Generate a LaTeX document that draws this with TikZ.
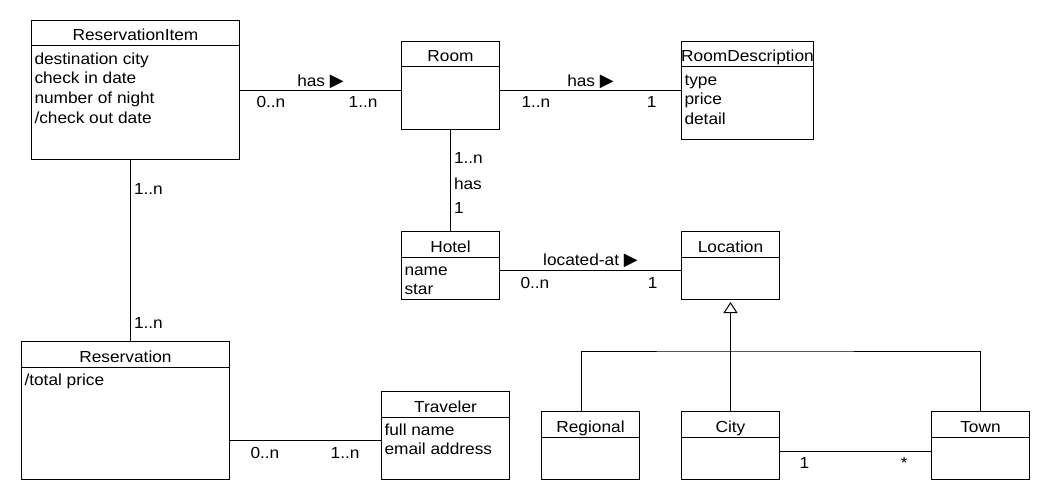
\documentclass[tikz,border=0pt]{standalone}
\usepackage{fontspec}
\setmainfont{Liberation Sans}[FakeStretch=1.08]
\newfontfamily\symfont{DejaVu Sans}
\usetikzlibrary{positioning,arrows.meta}
\newcommand{\tri}{{\symfont\fontsize{18}{18}\selectfont ▶}}
% class box: name, north west corner, width, height, title, attributes
\newcommand{\classbox}[6]{%
  \node[clsbox, minimum width=#3pt, minimum height=#4pt, anchor=north west] (#1) at (#2) {};
  \node[ttl] (#1-t) at ([yshift=-21pt]#1.north) {#5};
  \draw ([yshift=-26pt]#1.north west) -- ([yshift=-26pt]#1.north east);
  \node[att] (#1-a) at ([yshift=-26pt]#1.north west) {\strut#6};
}

\begin{document}
\begin{tikzpicture}[x=1pt, y=-1pt, line width=1pt,
  font=\fontsize{16}{19.7}\selectfont,
  clsbox/.style={draw, inner sep=0pt},
  ttl/.style={anchor=base, inner sep=0pt},
  att/.style={anchor=north west, align=left, inner xsep=3pt, inner ysep=4pt},
  mul/.style={inner sep=0pt},
  inherit/.style={-{Triangle[open, length=11pt, width=14pt]}, shorten >=2pt}]
\useasboundingbox (0,0) rectangle (1050,500);
% -- classes
\classbox{item}{31,20}{208}{139}{ReservationItem}
  {destination city\\check in date\\number of night\\/check out date}
\classbox{room}{401,41}{98}{88}{Room}{}
\classbox{desc}{681,41}{132}{98}{RoomDescription}{type\\price\\detail}
\classbox{hotel}{401,231}{98}{68}{Hotel}{name\\star}
\classbox{loc}{681,231}{98}{68}{Location}{}
\classbox{resv}{21,341}{208}{138}{Reservation}{/total price}
\classbox{trav}{381,391}{128}{88}{Traveler}{full name\\email address}
\classbox{reg}{541,411}{98}{68}{Regional}{}
\classbox{city}{681,411}{98}{68}{City}{}
\classbox{town}{931,411}{98}{68}{Town}{}
% -- associations
\draw ([yshift=-5pt]room.west -| item.east) -- ([yshift=-5pt]room.west)
  node[mul, pos=0, anchor=base west, xshift=16pt, yshift=-17pt] {0..n}
  node[mul, pos=1, anchor=base east, xshift=-23pt, yshift=-17pt] {1..n}
  node[mul, midway, anchor=base, yshift=4pt] {has \tri};
\draw ([yshift=-5pt]room.east) -- ([yshift=-5pt]room.east -| desc.west)
  node[mul, pos=0, anchor=base west, xshift=21pt, yshift=-17pt] {1..n}
  node[mul, pos=1, anchor=base east, xshift=-24pt, yshift=-17pt] {1}
  node[mul, midway, anchor=base, yshift=4pt] {has \tri};
\draw (room.south) -- (hotel.north)
  node[mul, pos=0, anchor=base west, xshift=3pt, yshift=-34pt] {1..n}
  node[mul, midway, anchor=base west, xshift=3pt, yshift=-9pt] {has}
  node[mul, pos=1, anchor=base west, xshift=3pt, yshift=18pt] {1};
\draw ([yshift=-5pt]hotel.east) -- ([yshift=-5pt]hotel.east -| loc.west)
  node[mul, pos=0, anchor=base west, xshift=20pt, yshift=-18pt] {0..n}
  node[mul, pos=1, anchor=base east, xshift=-23pt, yshift=-18pt] {1}
  node[mul, midway, anchor=base, yshift=5pt] {located-at \tri};
\draw ([xshift=-5pt]item.south) -- ([xshift=-5pt]item.south |- resv.north)
  node[mul, pos=0, anchor=base west, xshift=3pt, yshift=-34pt] {1..n}
  node[mul, pos=1, anchor=base west, xshift=3pt, yshift=13pt] {1..n};
\draw ([yshift=-5pt]trav.west -| resv.east) -- ([yshift=-5pt]trav.west)
  node[mul, pos=0, anchor=base west, xshift=20pt, yshift=-18pt] {0..n}
  node[mul, pos=1, anchor=base east, xshift=-21pt, yshift=-18pt] {1..n};
\draw ([yshift=-5.5pt]city.east) -- ([yshift=-5.5pt]city.east -| town.west)
  node[mul, pos=0, anchor=base west, xshift=19pt, yshift=-17.5pt] {1}
  node[mul, pos=1, anchor=base east, xshift=-23pt, yshift=-17.5pt] {*};
% -- generalization
\coordinate (gen) at (730,351);
\draw ([xshift=-9pt]reg.north) |- (gen) -| (town.north);
\draw[inherit] (city.north) -- (loc.south);
\end{tikzpicture}
\end{document}
